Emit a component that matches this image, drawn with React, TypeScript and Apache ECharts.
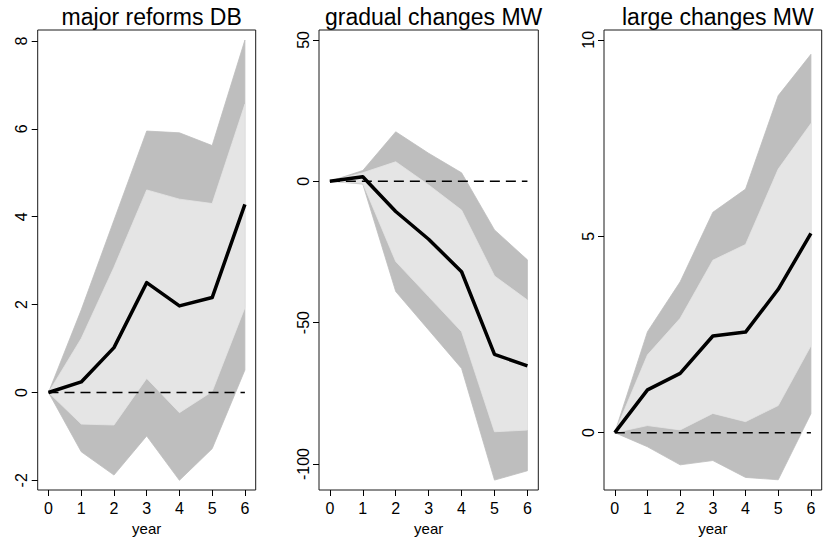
import React, { useEffect, useRef } from "react";
import * as echarts from "echarts";

const years = [0, 1, 2, 3, 4, 5, 6];
const titles = ["major reforms DB", "gradual changes MW", "large changes MW"];

// Panel 1: major reforms DB
const p1Mean = [0, 0.24, 1.02, 2.5, 1.97, 2.16, 4.28];
const p1OuterUp = [0, 1.88, 3.92, 5.95, 5.91, 5.62, 8.02];
const p1InnerUp = [0, 1.23, 2.85, 4.61, 4.4, 4.3, 6.56];
const p1InnerLo = [0, -0.72, -0.74, 0.32, -0.46, 0.02, 1.93];
const p1OuterLo = [0, -1.35, -1.88, -0.99, -2.0, -1.28, 0.51];
const p1Ticks = [-2, 0, 2, 4, 6, 8];

// Panel 2: gradual changes MW
const p2Mean = [0, 1.6, -10.7, -20.5, -32.0, -61.2, -65.3];
const p2OuterUp = [0, 3.8, 17.5, 9.9, 3.0, -17.2, -27.8];
const p2InnerUp = [0, 3.0, 6.9, -1.3, -10.2, -33.5, -42.0];
const p2InnerLo = [0, -0.7, -28.4, -40.8, -53.2, -88.6, -88.0];
const p2OuterLo = [0, -1.0, -39.0, -52.6, -66.2, -105.7, -102.4];
const p2Ticks = [-100, -50, 0, 50];

// Panel 3: large changes MW
const p3Mean = [0, 1.09, 1.51, 2.46, 2.56, 3.65, 5.07];
const p3OuterUp = [0, 2.57, 3.84, 5.61, 6.2, 8.58, 9.63];
const p3InnerUp = [0, 1.98, 2.91, 4.39, 4.79, 6.71, 7.87];
const p3InnerLo = [0, 0.18, 0.07, 0.49, 0.28, 0.69, 2.21];
const p3OuterLo = [0, -0.36, -0.82, -0.71, -1.14, -1.2, 0.48];
const p3Ticks = [0, 5, 10];

const panels = [
  { mean: p1Mean, oU: p1OuterUp, iU: p1InnerUp, iL: p1InnerLo, oL: p1OuterLo, ticks: p1Ticks, min: -2.22, max: 8.25 },
  { mean: p2Mean, oU: p2OuterUp, iU: p2InnerUp, iL: p2InnerLo, oL: p2OuterLo, ticks: p2Ticks, min: -109.2, max: 53.5 },
  { mean: p3Mean, oU: p3OuterUp, iU: p3InnerUp, iL: p3InnerLo, oL: p3OuterLo, ticks: p3Ticks, min: -1.46, max: 10.25 },
];

const gridBoxes = [
  { left: 37.7, width: 218 },
  { left: 319, width: 219.3 },
  { left: 604, width: 217.7 },
];

const FONT = "'Liberation Sans', Arial, Helvetica, sans-serif";

function bandSeries(idx: number, upper: number[], lower: number[], color: string, z: number) {
  return {
    type: "custom",
    xAxisIndex: idx,
    yAxisIndex: idx,
    z,
    silent: true,
    data: [[0, 0]],
    renderItem: (_params: any, api: any) => {
      const pts: number[][] = [];
      years.forEach((x, i) => pts.push(api.coord([x, upper[i]])));
      for (let i = years.length - 1; i >= 0; i--) pts.push(api.coord([years[i], lower[i]]));
      return {
        type: "polygon",
        shape: { points: pts },
        style: { fill: color, stroke: color, lineWidth: 0.8 },
      };
    },
  };
}

export default function App() {
  const ref = useRef<HTMLDivElement>(null);
  useEffect(() => {
    if (!ref.current) return;
    const chart = echarts.init(ref.current, undefined, { renderer: "svg" });
    const grid: any[] = [];
    const xAxis: any[] = [];
    const yAxis: any[] = [];
    const series: any[] = [];
    const title: any[] = [];
    panels.forEach((p, i) => {
      const g = gridBoxes[i];
      grid.push({
        left: g.left,
        top: 30,
        width: g.width,
        height: 460,
        show: true,
        borderColor: "#1a1a1a",
        borderWidth: 1,
        backgroundColor: "transparent",
      });
      title.push({
        text: titles[i],
        left: g.left + g.width / 2,
        textAlign: "center",
        top: 0,
        textStyle: { fontFamily: FONT, fontSize: 23, fontWeight: "normal", color: "#000" },
      });
      xAxis.push({
        type: "value",
        gridIndex: i,
        min: -0.33,
        max: 6.33,
        splitLine: { show: false },
        axisLine: { show: false, onZero: false },
        axisTick: { show: true, length: 6, customValues: years, lineStyle: { color: "#000" } },
        axisLabel: {
          customValues: years,
          fontFamily: FONT,
          fontSize: 16,
          color: "#000",
          margin: 10,
        },
        name: "year",
        nameLocation: "middle",
        nameGap: 30,
        nameTextStyle: { fontFamily: FONT, fontSize: 15, color: "#000" },
      });
      yAxis.push({
        type: "value",
        gridIndex: i,
        min: p.min,
        max: p.max,
        splitLine: { show: false },
        axisLine: { show: false, onZero: false },
        axisTick: { show: true, length: 6, customValues: p.ticks, lineStyle: { color: "#000" } },
        axisLabel: {
          customValues: p.ticks,
          rotate: 90,
          fontFamily: FONT,
          fontSize: 16,
          color: "#000",
          margin: 8,
        },
      });
      series.push(bandSeries(i, p.oU, p.oL, "#bebebe", 1));
      series.push(bandSeries(i, p.iU, p.iL, "#e5e5e5", 2));
      series.push({
        type: "line",
        xAxisIndex: i,
        yAxisIndex: i,
        z: 3,
        silent: true,
        showSymbol: false,
        data: years.map((x) => [x, 0]),
        lineStyle: { color: "#000", width: 1.5, type: [10, 6] },
      });
      series.push({
        type: "line",
        xAxisIndex: i,
        yAxisIndex: i,
        z: 4,
        silent: true,
        showSymbol: false,
        data: years.map((x, k) => [x, p.mean[k]]),
        lineStyle: { color: "#000", width: 3.5, join: "round" },
      });
    });
    chart.setOption({
      animation: false,
      backgroundColor: "#fff",
      title,
      grid,
      xAxis,
      yAxis,
      series,
    });
    return () => chart.dispose();
  }, []);
  return <div ref={ref} style={{ width: 832, height: 555, position: "absolute", left: 0, top: 0 }} />;
}
